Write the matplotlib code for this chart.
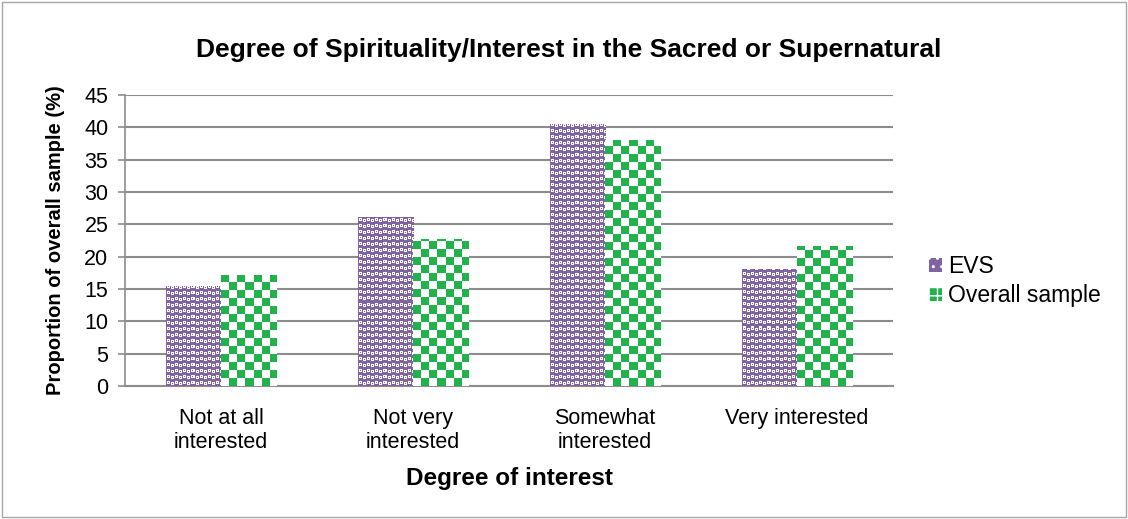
import numpy as np
import matplotlib
matplotlib.use("Agg")
import matplotlib.pyplot as plt
from matplotlib.patches import Rectangle, Patch
from matplotlib.colors import to_rgb

categories = ["Not at all\ninterested", "Not very\ninterested", "Somewhat\ninterested", "Very interested"]
evs = [15.4, 26.2, 40.5, 18.1]
overall = [17.1, 22.8, 38.0, 21.6]
series_names = ["EVS", "Overall sample"]
yticks = [0, 5, 10, 15, 20, 25, 30, 35, 40, 45]

PURPLE = "#8064A2"
GREEN = "#22B14C"
GRID = "#8c8c8c"

plt.rcParams['font.family'] = ['Liberation Sans', 'DejaVu Sans']

fig = plt.figure(figsize=(11.28, 5.19), dpi=100)
ax = fig.add_axes([125/1128, (519-386)/519, 768/1128, 291/519])

# outer border
fig.patches.append(Rectangle((0.002, 0.004), 0.996, 0.992, transform=fig.transFigure,
                             fill=False, edgecolor="#a6a6a6", linewidth=1.0))

x = np.arange(len(categories))
bw = 0.287
bars1 = ax.bar(x - bw/2, evs, bw, color=PURPLE, linewidth=0, zorder=2)
bars2 = ax.bar(x + bw/2, overall, bw, color=GREEN, linewidth=0, zorder=2)

ax.set_xlim(-0.5, len(categories) - 0.5)
ax.set_ylim(0, 45)
ax.set_yticks(yticks)
ax.set_xticks(x)
ax.set_xticklabels(categories, fontsize=15.5, linespacing=1.15)
ax.tick_params(axis='y', labelsize=15.5, length=5, color=GRID, width=1.2, pad=7)
ax.tick_params(axis='x', length=0, pad=16)
ax.yaxis.grid(True, color=GRID, linewidth=1.5, zorder=0)
ax.set_axisbelow(True)
for s in ['top', 'right']:
    ax.spines[s].set_visible(False)
ax.spines['left'].set_color(GRID)
ax.spines['left'].set_linewidth(1.2)
ax.spines['bottom'].set_color(GRID)
ax.spines['bottom'].set_linewidth(1.5)

# pattern tiles
W = (1.0, 1.0, 1.0)
P = to_rgb(PURPLE)
G = to_rgb(GREEN)
ptile_s = ["PPPPPPPP",
           "PWWWPPPP",
           "PWPWPWWW",
           "PWWWPWPW",
           "PPPPPWWW",
           "PPPPPPPP"]
ptile = np.array([[P if c == 'P' else W for c in row] for row in ptile_s])
gtile = np.array([[G if ((i // 8) + (j // 8)) % 2 == 0 else W for j in range(16)] for i in range(16)])

fig.canvas.draw()

def fill_pattern(bars, tile):
    for b in bars:
        x0, y0 = b.get_x(), b.get_y()
        x1, y1 = x0 + b.get_width(), y0 + b.get_height()
        (px0, py0), (px1, py1) = ax.transData.transform([(x0, y0), (x1, y1)])
        wpx = max(1, int(round(px1 - px0)))
        hpx = max(1, int(round(py1 - py0)))
        th, tw = tile.shape[:2]
        img = np.tile(tile, (hpx // th + 2, wpx // tw + 2, 1))
        img = img[-hpx:, :wpx]
        im = ax.imshow(img, extent=(x0, x1, y0, y1), origin='upper', aspect='auto',
                       interpolation='nearest', zorder=3)
        im.set_clip_path(b)

fill_pattern(bars1, ptile)
fill_pattern(bars2, gtile)
ax.set_xlim(-0.5, len(categories) - 0.5)
ax.set_ylim(0, 45)

ax.set_ylabel("Proportion of overall sample (%)", fontsize=14.5, fontweight='bold', labelpad=14)
ax.set_xlabel("Degree of interest", fontsize=17.5, fontweight='bold', labelpad=10)
fig.text(0.504, 1 - 50/519, "Degree of Spirituality/Interest in the Sacred or Supernatural",
         ha='center', va='center', fontsize=19, fontweight='bold')

handles = [Patch(facecolor=PURPLE, edgecolor='white', hatch='..', linewidth=0),
           Patch(facecolor=GREEN, edgecolor='white', hatch='++', linewidth=0)]
fig.legend(handles, series_names, loc='upper left', bbox_to_anchor=(929/1128, 1 - 255/519),
           frameon=False, fontsize=16.5, handlelength=0.55, handleheight=0.55,
           handletextpad=0.3, labelspacing=0.25, borderaxespad=0, borderpad=0)

fig.savefig("out.png", dpi=100)
